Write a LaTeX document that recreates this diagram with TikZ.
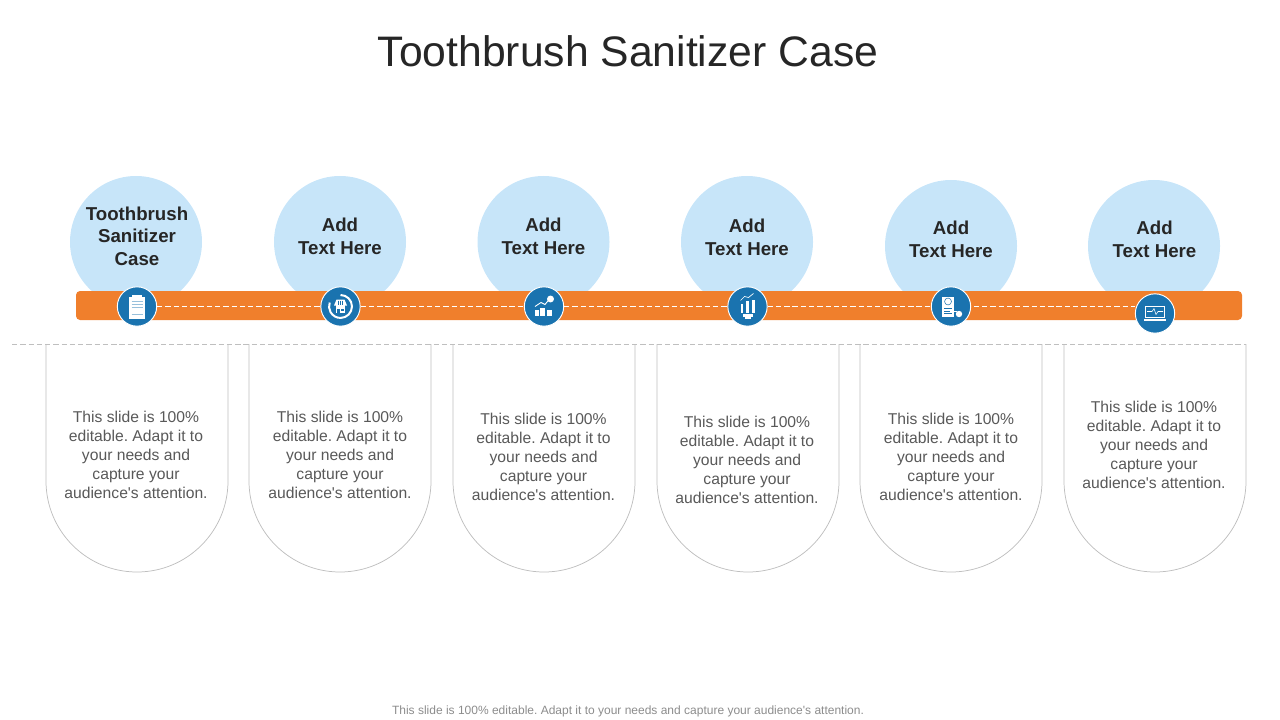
\documentclass[tikz,border=0pt]{standalone}
\usepackage{fontspec}
\setmainfont{Liberation Sans}
\frenchspacing
\definecolor{orangebar}{HTML}{F07F2C}
\definecolor{lightblue}{HTML}{C7E5F9}
\definecolor{iconblue}{HTML}{1A73AF}
\definecolor{titlegray}{HTML}{262626}
\definecolor{bodygray}{HTML}{595959}
\definecolor{footgray}{HTML}{8C8C8C}
\definecolor{linegray}{HTML}{BFBFBF}
\tikzset{
  x=0.75pt,y=-0.75pt,
  headcircle/.style={circle,fill=lightblue,draw=none,minimum size=99pt,inner sep=0pt},
  headlabel/.style={font=\fontsize{14}{17}\selectfont\bfseries,text=titlegray,align=center,inner sep=0pt},
  iconnode/.style={circle,fill=iconblue,draw=white,line width=0.7pt,minimum size=29.5pt,inner sep=0pt},
  bodytext/.style={font=\fontsize{11.75}{14.25}\selectfont,text=bodygray,align=center,inner sep=0pt},
  capsule/.style={draw=linegray,line width=0.55pt,fill=white},
  linkdash/.style={white,line width=0.5pt,dash pattern=on 4pt off 2.2pt},
}
\newcommand{\capsuleshape}[1]{%
  \draw[capsule] (#1-91,344) -- (#1-91,481) arc[start angle=180,end angle=360,radius=68.25pt] -- (#1+91,344);}
\newcommand{\bodycopy}{This slide is 100\%\\editable. Adapt it to\\your needs and\\capture your\\audience\textquotesingle s attention.}
\newcommand{\addcopy}{Add\\Text Here}
\begin{document}
\begin{tikzpicture}
\useasboundingbox (0,0) rectangle (1280,720);
\node[font=\fontsize{32}{38}\selectfont,text=titlegray,inner sep=0pt] (title) at (628,51) {Toothbrush Sanitizer Case};
% capsules
\capsuleshape{137}\capsuleshape{340}\capsuleshape{544}\capsuleshape{748}\capsuleshape{951}\capsuleshape{1155}
\coordinate (dl) at (12,344.5);
\coordinate (dr) at (1246,344.5);
\draw[linegray,line width=0.6pt,dash pattern=on 4pt off 2.2pt] (dl) -- (dr);
% head circles
\node[headcircle] (c1) at (136,242) {};
\node[headcircle] (c2) at (340,242) {};
\node[headcircle] (c3) at (543.5,242) {};
\node[headcircle] (c4) at (747,242) {};
\node[headcircle] (c5) at (951,246) {};
\node[headcircle] (c6) at (1154,246) {};
\node[headlabel] (l1) at (137,236) {Toothbrush\\Sanitizer\\Case};
\node[headlabel] (l2) at (340,236.5) {\addcopy};
\node[headlabel] (l3) at (543.5,236.5) {\addcopy};
\node[headlabel] (l4) at (747,237) {\addcopy};
\node[headlabel] (l5) at (951,239.5) {\addcopy};
\node[headlabel] (l6) at (1154.5,239.5) {\addcopy};
% bar
\node[fill=orangebar,rounded corners=3pt,minimum width=874.5pt,minimum height=21.75pt,inner sep=0pt] (bar) at (659,305.5) {};
% icons
\node[iconnode] (i1) at (137,306.5) {};
\node[iconnode] (i2) at (340.5,306.5) {};
\node[iconnode] (i3) at (544,306.5) {};
\node[iconnode] (i4) at (747.5,306.5) {};
\node[iconnode] (i5) at (951,306.5) {};
\node[iconnode] (i6) at (1155,313.5) {};
% dashed connectors
\draw[linkdash] (i1) -- (i2);
\draw[linkdash] (i2) -- (i3);
\draw[linkdash] (i3) -- (i4);
\draw[linkdash] (i4) -- (i5);
\draw[linkdash] ([xshift=2pt]i5.east) -- (i5.east-|i6.west);
% icon 1: clipboard
\begin{scope}[shift={(i1.center)}]
  \fill[white] (-8,-10) rectangle (8,12);
  \fill[white] (-5,-12) rectangle (5,-9);
  \foreach \y in {-5,-2,1,8}{\draw[iconblue!45,line width=0.3pt] (-5.5,\y) -- (5.5,\y);}
\end{scope}
% icon 2: store in ring
\begin{scope}[shift={(i2.center)}]
  \draw[white,line width=1.5pt] (0,-11.5) arc[start angle=90,end angle=-200,radius=8.6pt];
  \fill[white] (-4.8,-2) rectangle (4.8,6);
  \fill[white] (-4,-7) -- (4,-7) -- (6.5,-1) -- (-6.5,-1) -- cycle;
  \foreach \x in {-2.2,0,2.2}{\draw[iconblue,line width=0.4pt] (\x,-6) -- (\x,-2);}
  \fill[iconblue] (-3.2,2) rectangle (-0.8,6);
  \fill[iconblue] (0.8,2) rectangle (3.2,4.5);
\end{scope}
% icon 3: bars and arrow
\begin{scope}[shift={(i3.center)}]
  \fill[white] (-9,9) rectangle (-5,3);
  \fill[white] (-4,9) rectangle (1,1);
  \fill[white] (2.5,9) rectangle (8,3);
  \draw[white,line width=0.7pt] (-9,0) -- (-3,-4) -- (1,-2) -- (5,-7);
  \fill[white] (6.5,-7.5) circle[radius=2.6pt];
\end{scope}
% icon 4: chart on gears
\begin{scope}[shift={(i4.center)}]
  \fill[white] (-7,6) rectangle (-4.5,-3);
  \fill[white] (-1.5,6) rectangle (1,-6);
  \fill[white] (4,6) rectangle (7,-7);
  \draw[white,line width=0.5pt] (-7,-6) -- (-3,-10) -- (1,-9) -- (6,-13);
  \fill[white] (-5,7) rectangle (5,10);
  \fill[white] (-2.5,10) rectangle (3,12);
\end{scope}
% icon 5: certificate
\begin{scope}[shift={(i5.center)}]
  \fill[white] (-9,-10) rectangle (3,10);
  \draw[iconblue,line width=0.4pt] (-3,-5) circle[radius=2.6pt];
  \foreach \y in {2,4.5,7}{\draw[iconblue,line width=0.4pt] (-7,\y) -- (1,\y);}
  \fill[white] (8,7.5) circle[radius=2.4pt];
  \draw[white,line width=0.5pt] (-1,5) -- (6,5);
\end{scope}
% icon 6: laptop
\begin{scope}[shift={(i6.center)}]
  \draw[white,line width=0.7pt] (-9.5,-7) rectangle (9,4);
  \fill[white] (-11,5) rectangle (11,7);
  \draw[white,line width=0.4pt] (-8,-2) -- (-3,-2) -- (-1,-5) -- (1,1) -- (3,-2) -- (8,-2);
\end{scope}
% body text
\node[bodytext] (t1) at (136,455) {\bodycopy};
\node[bodytext] (t2) at (340,455) {\bodycopy};
\node[bodytext] (t3) at (543.5,457) {\bodycopy};
\node[bodytext] (t4) at (747,460) {\bodycopy};
\node[bodytext] (t5) at (951,457) {\bodycopy};
\node[bodytext] (t6) at (1154,445) {\bodycopy};
\node[font=\fontsize{9}{11}\selectfont,text=footgray,inner sep=0pt] (foot) at (628,711) {This slide is 100\% editable. Adapt it to your needs and capture your audience\textquotesingle s attention.};
\end{tikzpicture}
\end{document}
